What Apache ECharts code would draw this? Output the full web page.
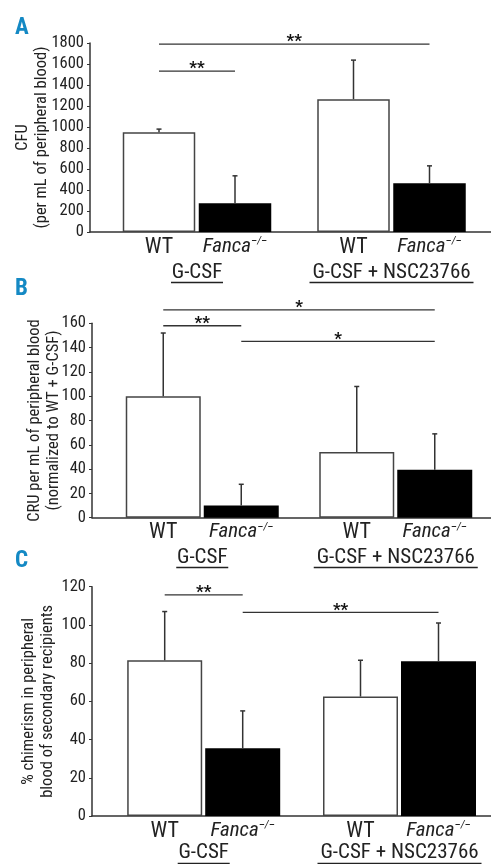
<!DOCTYPE html>
<html>
<head>
<meta charset="utf-8">
<script src="https://cdn.jsdelivr.net/npm/echarts@6/dist/echarts.min.js"></script>
<style>
html, body { margin: 0; padding: 0; background: #fff; }
#main { width: 491px; height: 864px; }
</style>
</head>
<body>
<div id="main"></div>
<script>
// 分组
var groups = ["G-CSF", "G-CSF + NSC23766"];

// A: CFU per mL of peripheral blood
var cfuWT = [950, 1265];
var cfuWTsd = [30, 372];
var cfuFanca = [275, 465];
var cfuFancaSd = [260, 165];
var cfuAxis = [0, 1800, 200];          // min, max, interval
var cfuSig = [[0, 0, 1, 1, 1790, "**"], [0, 0, 0, 1, 1533, "**"]];

// B: CRU (normalized to WT + G-CSF)
var cruWT = [100, 54];
var cruWTsd = [52, 54];
var cruFanca = [10, 39.5];
var cruFancaSd = [17.5, 29.5];
var cruAxis = [0, 160, 20];
var cruSig = [[0, 0, 1, 1, 171, "*"], [0, 0, 0, 1, 158, "**"], [0, 1, 1, 1, 145.2, "*"]];

// C: % chimerism
var chiWT = [81.5, 62.5];
var chiWTsd = [25.5, 19];
var chiFanca = [35.5, 81];
var chiFancaSd = [19.5, 20];
var chiAxis = [0, 120, 20];
var chiSig = [[0, 0, 0, 1, 115.7, "**"], [0, 1, 1, 1, 106.6, "**"]];

var FONT = "'Roboto Condensed', 'DejaVu Sans Condensed', sans-serif";
var TXT = "#222";
var UL_W = [52, 164];   // 下划线宽度

var panels = [
    { letter: "A", ly: 17, axisX: 90, top: 43, h: 189, left: 99.75, w: 389, bw: 72.5, gap: 3.5, nameGap: 38, margin: 32, ul: 50,
      name: "CFU\n(per mL of peripheral blood)", axis: cfuAxis,
      wt: cfuWT, wtSd: cfuWTsd, fa: cfuFanca, faSd: cfuFancaSd, sig: cfuSig },
    { letter: "B", ly: 278, axisX: 92, top: 323.3, h: 194.4, left: 105.5, w: 387, bw: 75, gap: 3, nameGap: 28, margin: 31, ul: 49.5,
      name: "CRU per mL of peripheral blood\n(normalized to WT + G-CSF)", axis: cruAxis,
      wt: cruWT, wtSd: cruWTsd, fa: cruFanca, faSd: cruFancaSd, sig: cruSig },
    { letter: "C", ly: 550, axisX: 92, top: 586.7, h: 229.3, left: 105.8, w: 391.6, bw: 75, gap: 3, nameGap: 34, margin: 28, ul: 46.5,
      name: "% chimerism in peripheral\nblood of secondary recipients", axis: chiAxis,
      wt: chiWT, wtSd: chiWTsd, fa: chiFanca, faSd: chiFancaSd, sig: chiSig }
];

var myChart = echarts.init(document.getElementById("main"));

var grid = [], xAxis = [], yAxis = [], series = [], graphic = [];

panels.forEach(function (p, i) {
    var ax = 2 * i, dt = 2 * i + 1;
    var off = (p.bw + p.gap) / 2;

    // 坐标轴网格
    grid.push({ left: p.axisX, right: 0, top: p.top, height: p.h, outerBoundsMode: "none" });
    // 数据网格
    grid.push({ left: p.left, width: p.w, top: p.top, height: p.h, outerBoundsMode: "none" });

    xAxis.push({
        gridIndex: ax, type: "value", min: 0, max: 1,
        axisLine: { show: true, lineStyle: { color: "#333", width: 1.5 } },
        axisTick: { show: false }, axisLabel: { show: false }, splitLine: { show: false }
    });
    xAxis.push({
        gridIndex: dt, type: "category", data: groups,
        axisLine: { show: false }, axisTick: { show: false },
        axisLabel: {
            interval: 0, margin: p.margin,
            formatter: "{t|{value}}",
            rich: {
                t: { fontFamily: FONT, fontSize: 21, lineHeight: 18, color: TXT }
            }
        }
    });

    yAxis.push({
        gridIndex: ax, type: "value", min: p.axis[0], max: p.axis[1], interval: p.axis[2],
        name: p.name, nameLocation: "middle", nameGap: p.nameGap, nameRotate: 90, nameMoveOverlap: false,
        nameTextStyle: { fontFamily: FONT, fontSize: 16.5, lineHeight: 19.5, color: TXT },
        axisLine: { show: true, lineStyle: { color: "#333", width: 1.5 } },
        axisTick: { show: true, length: 3, lineStyle: { color: "#333" } },
        axisLabel: {
            fontFamily: FONT, fontSize: 16.5, color: TXT, margin: 6,
            formatter: function (v) { return String(v); }
        },
        splitLine: { show: false }
    });
    yAxis.push({
        gridIndex: dt, type: "value", min: p.axis[0], max: p.axis[1], show: false
    });

    var gapPct = (p.gap / p.bw * 100) + "%";

    series.push({
        name: "WT", type: "bar", xAxisIndex: dt, yAxisIndex: dt,
        data: p.wt, barWidth: p.bw, barGap: gapPct,
        itemStyle: { color: "#fff", borderColor: "#444", borderWidth: 1.5 },
        label: {
            show: true, position: "bottom", distance: 4, formatter: "WT",
            fontFamily: FONT, fontSize: 22, color: TXT
        }
    });
    series.push({
        name: "Fanca", type: "bar", xAxisIndex: dt, yAxisIndex: dt,
        data: p.fa, barWidth: p.bw, barGap: gapPct,
        itemStyle: { color: "#000" },
        label: {
            show: true, position: "bottom", distance: 4,
            formatter: "{i|Fanca}{s|\u2013/\u2013}",
            rich: {
                i: { fontFamily: FONT, fontSize: 21, fontStyle: "italic", fontWeight: "normal", color: TXT },
                s: { fontFamily: FONT, fontSize: 11, fontStyle: "italic", fontWeight: "normal", color: TXT, verticalAlign: "top", padding: [0, 0, 8, 0] }
            }
        }
    });

    // 误差线
    var errData = [];
    for (var g = 0; g < groups.length; g++) {
        errData.push([g, 0, p.wt[g], p.wtSd[g]]);
        errData.push([g, 1, p.fa[g], p.faSd[g]]);
    }
    series.push({
        type: "custom", xAxisIndex: dt, yAxisIndex: dt, z: 5,
        encode: { x: 0, y: 2 },
        data: errData,
        renderItem: function (params, api) {
            var g = api.value(0), s = api.value(1), m = api.value(2), sd = api.value(3);
            var p0 = api.coord([g, m]);
            var p1 = api.coord([g, m + sd]);
            var x = p0[0] + (s ? 1 : -1) * off;
            return {
                type: "group",
                children: [
                    { type: "line", shape: { x1: x, y1: p0[1], x2: x, y2: p1[1] }, style: { stroke: "#333", lineWidth: 1.5 } },
                    { type: "line", shape: { x1: x - 2.5, y1: p1[1], x2: x + 2.5, y2: p1[1] }, style: { stroke: "#333", lineWidth: 1.5 } }
                ]
            };
        }
    });

    // 分组名下划线
    var ul = p.ul;
    series.push({
        type: "custom", xAxisIndex: dt, yAxisIndex: dt, z: 6, clip: false,
        encode: { x: 0, y: 1 },
        data: groups.map(function (n, k) { return [k, 0]; }),
        renderItem: function (params, api) {
            var c = api.coord([api.value(0), 0]);
            var hw = UL_W[params.dataIndex] / 2;
            var y = Math.round(c[1] + ul) + 0.5;
            return { type: "line", shape: { x1: c[0] - hw, y1: y, x2: c[0] + hw, y2: y },
                style: { stroke: TXT, lineWidth: 1.3 } };
        }
    });

    // 显著性标记
    var sig = p.sig;
    series.push({
        type: "custom", xAxisIndex: dt, yAxisIndex: dt, z: 6, clip: false,
        encode: { x: 0, y: 4 },
        data: sig.map(function (r) { return r.slice(0, 5); }),
        renderItem: function (params, api) {
            var a = api.coord([api.value(0), api.value(4)]);
            var b = api.coord([api.value(2), api.value(4)]);
            var xa = a[0] + (api.value(1) ? 1 : -1) * off;
            var xb = b[0] + (api.value(3) ? 1 : -1) * off;
            return {
                type: "group",
                children: [
                    { type: "line", shape: { x1: xa, y1: a[1], x2: xb, y2: a[1] }, style: { stroke: "#333", lineWidth: 1.3 } },
                    { type: "text", style: {
                        x: (xa + xb) / 2, y: a[1] - 2, text: sig[params.dataIndex][5],
                        align: "center", verticalAlign: "middle",
                        font: "bold 17px " + FONT, fill: "#111" } }
                ]
            };
        }
    });

    graphic.push({
        type: "text", left: 15, top: p.ly,
        style: { text: p.letter, font: "bold 23px " + FONT, fill: "#1489c4" }
    });
});

var option = {
    animation: false,
    backgroundColor: "#fff",
    textStyle: { fontFamily: FONT },
    grid: grid,
    xAxis: xAxis,
    yAxis: yAxis,
    series: series,
    graphic: graphic
};

myChart.setOption(option);
window.addEventListener("resize", function () {
    myChart.resize();
});
</script>
</body>
</html>
